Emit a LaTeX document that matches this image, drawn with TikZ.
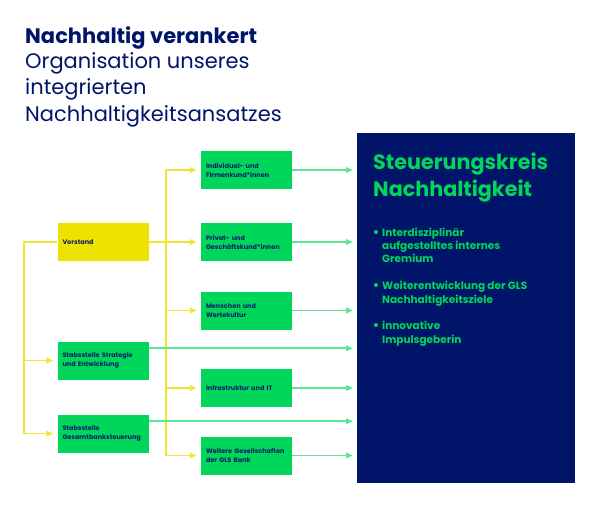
\documentclass[tikz,border=0pt]{standalone}
\usepackage{fontspec}
\setmainfont{Poppins}
\usetikzlibrary{arrows.meta}
\definecolor{navy}{HTML}{001469}
\definecolor{gbox}{HTML}{00D65A}
\definecolor{ybox}{HTML}{EEE300}
\definecolor{yline}{HTML}{F0E530}
\definecolor{gline}{HTML}{5BE594}
\definecolor{btext}{HTML}{0A1F6B}
\tikzset{
  titlebold/.style={anchor=base west,inner sep=0,text=navy,font=\fontsize{21}{25}\selectfont\bfseries},
  titlereg/.style={anchor=base west,inner sep=0,text=navy,font=\fontsize{21}{25}\selectfont},
  orgbox/.style={fill=gbox,minimum width=91pt,minimum height=38pt,text width=81pt,inner xsep=5pt,inner ysep=0pt,align=left,text=btext,font=\fontsize{6.5}{9}\selectfont\bfseries},
  vorbox/.style={orgbox,fill=ybox},
  yl/.style={draw=yline,line width=1.5pt},
  ya/.style={yl,-{Triangle[length=7pt,width=5.5pt]},shorten >=4pt},
  ga/.style={draw=gline,line width=1.8pt,-{Triangle[length=7pt,width=5.5pt,fill=gbox]},shorten >=4pt},
  head/.style={anchor=base west,inner sep=0,text=gbox,font=\fontsize{20.7}{24}\selectfont\bfseries},
  bul/.style={anchor=base west,inner sep=0,text=gbox,font=\fontsize{10.5}{13}\selectfont\bfseries},
  dot/.style={circle,fill=gbox,inner sep=0,minimum size=4pt},
}
\begin{document}
\begin{tikzpicture}[x=1pt,y=-1pt]
\useasboundingbox (0,0) rectangle (599,507);
% title
\node[titlebold] (t1) at (25,43) {Nachhaltig verankert};
\node[titlereg] (t2) at (25,68) {Organisation unseres};
\node[titlereg] (t3) at (25,94) {integrierten};
\node[titlereg] (t4) at (25,121) {Nachhaltigkeitsansatzes};
% blue box
\node[fill=navy,minimum width=218pt,minimum height=350pt,inner sep=0,anchor=north west] (blue) at (357,133) {};
\node[head] (h1) at (373,169) {Steuerungskreis};
\node[head] (h2) at (373,196) {Nachhaltigkeit};
\node[dot] (d1) at (376,232) {};
\node[bul] (b1a) at (382,236) {Interdisziplinär};
\node[bul] (b1b) at (382,249) {aufgestelltes internes};
\node[bul] (b1c) at (382,262) {Gremium};
\node[dot] (d2) at (376,285) {};
\node[bul] (b2a) at (382,289) {Weiterentwicklung der GLS};
\node[bul] (b2b) at (382,303) {Nachhaltigkeitsziele};
\node[dot] (d3) at (376,325) {};
\node[bul] (b3a) at (382,329) {innovative};
\node[bul] (b3b) at (382,343) {Impulsgeberin};
% left boxes
\node[vorbox] (vor) at (103,242) {Vorstand};
\node[orgbox] (strat) at (103,360.5) {Stabsstelle Strategie\\und Entwicklung};
\node[orgbox] (ges) at (103,433.5) {Stabsstelle\\Gesamtbanksteuerung};
% right boxes
\node[orgbox] (ind) at (246.5,170) {Individual- und\\Firmenkund*innen};
\node[orgbox] (priv) at (246.5,242) {Privat- und\\Geschäftskund*innen};
\node[orgbox] (men) at (246.5,310.5) {Menschen und\\Wertekultur};
\node[orgbox] (inf) at (246.5,388) {Infrastruktur und IT};
\node[orgbox] (wei) at (246.5,455.5) {Weitere Gesellschaften\\der GLS Bank};
% yellow connectors
\coordinate (cl) at (24,0);
\coordinate (cr) at (166,0);
\draw[yl] (vor.west) -- (cl |- vor.west) -- (cl |- ges.west);
\draw[ya] (cl |- strat.west) -- (strat.west);
\draw[ya] (cl |- ges.west) -- (ges.west);
\draw[yl] (vor.east) -- (cr |- vor.east);
\draw[yl] (cr |- ind.west) -- (cr |- wei.west);
\foreach \b in {ind,priv,men,inf,wei}{
  \draw[ya] (cr |- \b.west) -- (\b.west);
}
% green connectors
\foreach \b in {ind,priv,men,inf,wei}{
  \draw[ga] (\b.east) -- (blue.west |- \b.east);
}
\coordinate (s1) at ([yshift=-7pt]strat.north east);
\coordinate (s2) at ([yshift=-7pt]ges.north east);
\draw[ga] (s1) -- (blue.west |- s1);
\draw[ga] (s2) -- (blue.west |- s2);
\end{tikzpicture}
\end{document}
